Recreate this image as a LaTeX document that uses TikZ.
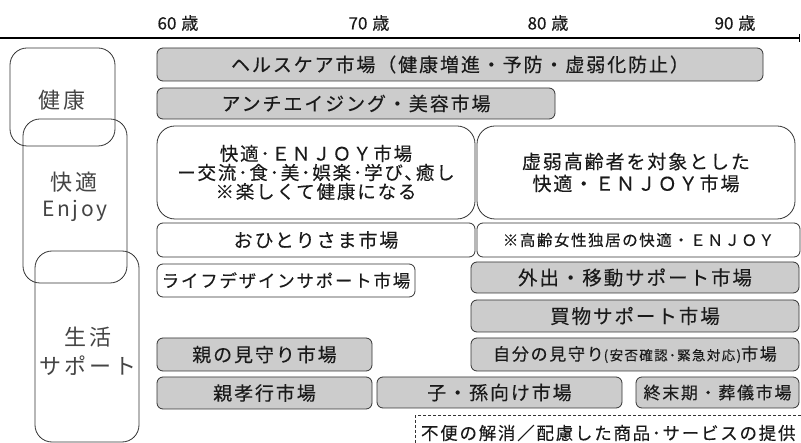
\documentclass[tikz,border=0pt]{standalone}
\usepackage{fontspec}
\newfontfamily\jp{Noto Sans CJK JP}[LetterSpace=10,FakeBold=0.2]
\newfontfamily\jplab{Noto Sans CJK JP}[LetterSpace=14]
\newfontfamily\jpn{Noto Sans CJK JP}[FakeBold=0.4]
\usetikzlibrary{arrows.meta}
\definecolor{boxgray}{HTML}{CCCCCC}
\definecolor{edgecol}{HTML}{333333}
\definecolor{ink}{HTML}{1A1A1A}
\definecolor{labink}{HTML}{444444}
\newcommand\fsz[1]{\fontsize{#1pt}{#1pt}\selectfont}
\tikzset{
  basebox/.style={draw=edgecol, line width=0.8pt, anchor=north west, inner sep=0pt, outer sep=0pt, text=ink, rounded corners=6pt, font=\jp\fsz{19}},
  gbox/.style={basebox, fill=boxgray},
  wbox/.style={basebox, fill=white},
  catbox/.style={draw=edgecol, line width=0.8pt, anchor=north west, inner sep=0pt, outer sep=0pt, rounded corners=17pt},
  catlab/.style={text=labink, inner sep=0pt, font=\jplab\fsz{22}, align=center},
  agelab/.style={text=ink, inner sep=0pt, font=\jpn\fsz{17}},
}
\begin{document}
\begin{tikzpicture}[x=1pt,y=-1pt]
\useasboundingbox (0,0) rectangle (801,443);
\clip (0,0) rectangle (801,443);
\fill[white] (0,0) rectangle (801,443);
% axis
\coordinate (axL) at (0,38);
\coordinate (axR) at (800,38);
\draw[line width=1.1pt, -{Bar[width=8pt,line width=1pt]}] (axL) -- (axR);
\node[agelab] (a60) at (178,23) {60\hspace{5pt}歳};
\node[agelab] (a70) at (369,23) {70\hspace{5pt}歳};
\node[agelab] (a80) at (548,23) {80\hspace{5pt}歳};
\node[agelab] (a90) at (735,23) {90\hspace{5pt}歳};
% category boxes
\node[catbox, minimum width=105pt, minimum height=98pt] (kenko) at (10,48) {};
\node[catbox, minimum width=104pt, minimum height=164pt] (kaiteki) at (23,119) {};
\node[catbox, minimum width=104pt, minimum height=191pt] (seikatsu) at (35,251) {};
\node[catlab] (kenkoL) at (62,100) {健康};
\node[catlab] (kaitekiL) at (74,182) {快適};
\node[catlab, font=\jplab\fsz{21}\addfontfeatures{LetterSpace=12}] (enjoyL) at (75,211) {Enjoy};
\node[catlab] (seikatsuL) at (88,337) {生活};
\node[catlab] (supportL) at (88,366) {サポート};
% market boxes
\node[gbox, minimum width=606pt, minimum height=33pt] (health) at (157,48) {ヘルスケア市場（健康増進・予防・虚弱化防止）};
\node[gbox, minimum width=398pt, minimum height=31pt] (anti) at (157,88) {アンチエイジング・美容市場};
\node[wbox, rounded corners=18pt, minimum width=318pt, minimum height=93pt, align=center, font=\jp\fontsize{18.5pt}{19pt}\selectfont] (enjoyA) at (157,126) {快適･ＥＮＪＯＹ市場\\ー交流･食･美･娯楽･学び､癒し\\※楽しくて健康になる};
\node[wbox, rounded corners=18pt, minimum width=318pt, minimum height=93pt, align=center, font=\jp\fontsize{19pt}{22pt}\selectfont] (enjoyB) at (477,126) {虚弱高齢者を対象とした\\快適・ＥＮＪＯＹ市場};
\node[wbox, minimum width=318pt, minimum height=34pt] (ohitori) at (157,223) {おひとりさま市場};
\node[wbox, minimum width=323pt, minimum height=34pt, font=\jp\fsz{15.5}] (josei) at (477,223) {※高齢女性独居の快適・ＥＮＪＯＹ};
\node[wbox, minimum width=258pt, minimum height=33pt, font=\jp\fsz{17.5}] (life) at (157,264) {ライフデザインサポート市場};
\node[gbox, minimum width=328pt, minimum height=31pt, font=\jp\fsz{19.5}] (gaishutsu) at (471,262) {外出・移動サポート市場};
\node[gbox, minimum width=328pt, minimum height=32pt, font=\jp\fsz{19.5}] (kaimono) at (471,300) {買物サポート市場};
\node[gbox, minimum width=328pt, minimum height=33pt, font=\jp\fsz{17}] (jibun) at (471,338) {自分の見守り{\fsz{13.5}(安否確認･緊急対応)}市場};
\node[gbox, minimum width=215pt, minimum height=33pt] (oya) at (157,338) {親の見守り市場};
\node[gbox, minimum width=215pt, minimum height=32pt] (koukou) at (157,377) {親孝行市場};
\node[gbox, minimum width=245pt, minimum height=31pt] (ko) at (377,377) {子・孫向け市場};
\node[gbox, minimum width=163pt, minimum height=31pt, font=\jp\fsz{17}] (shumatsu) at (636,377) {終末期・葬儀市場};
\node[basebox, fill=white, dashed, dash pattern=on 3pt off 2pt, line width=1pt, rounded corners=0pt, minimum height=34pt, text width=379pt, inner xsep=6pt, align=left, font=\jp\fsz{17.5}] (fuben) at (415,416) {不便の解消／配慮した商品･サービスの提供};
\end{tikzpicture}
\end{document}
